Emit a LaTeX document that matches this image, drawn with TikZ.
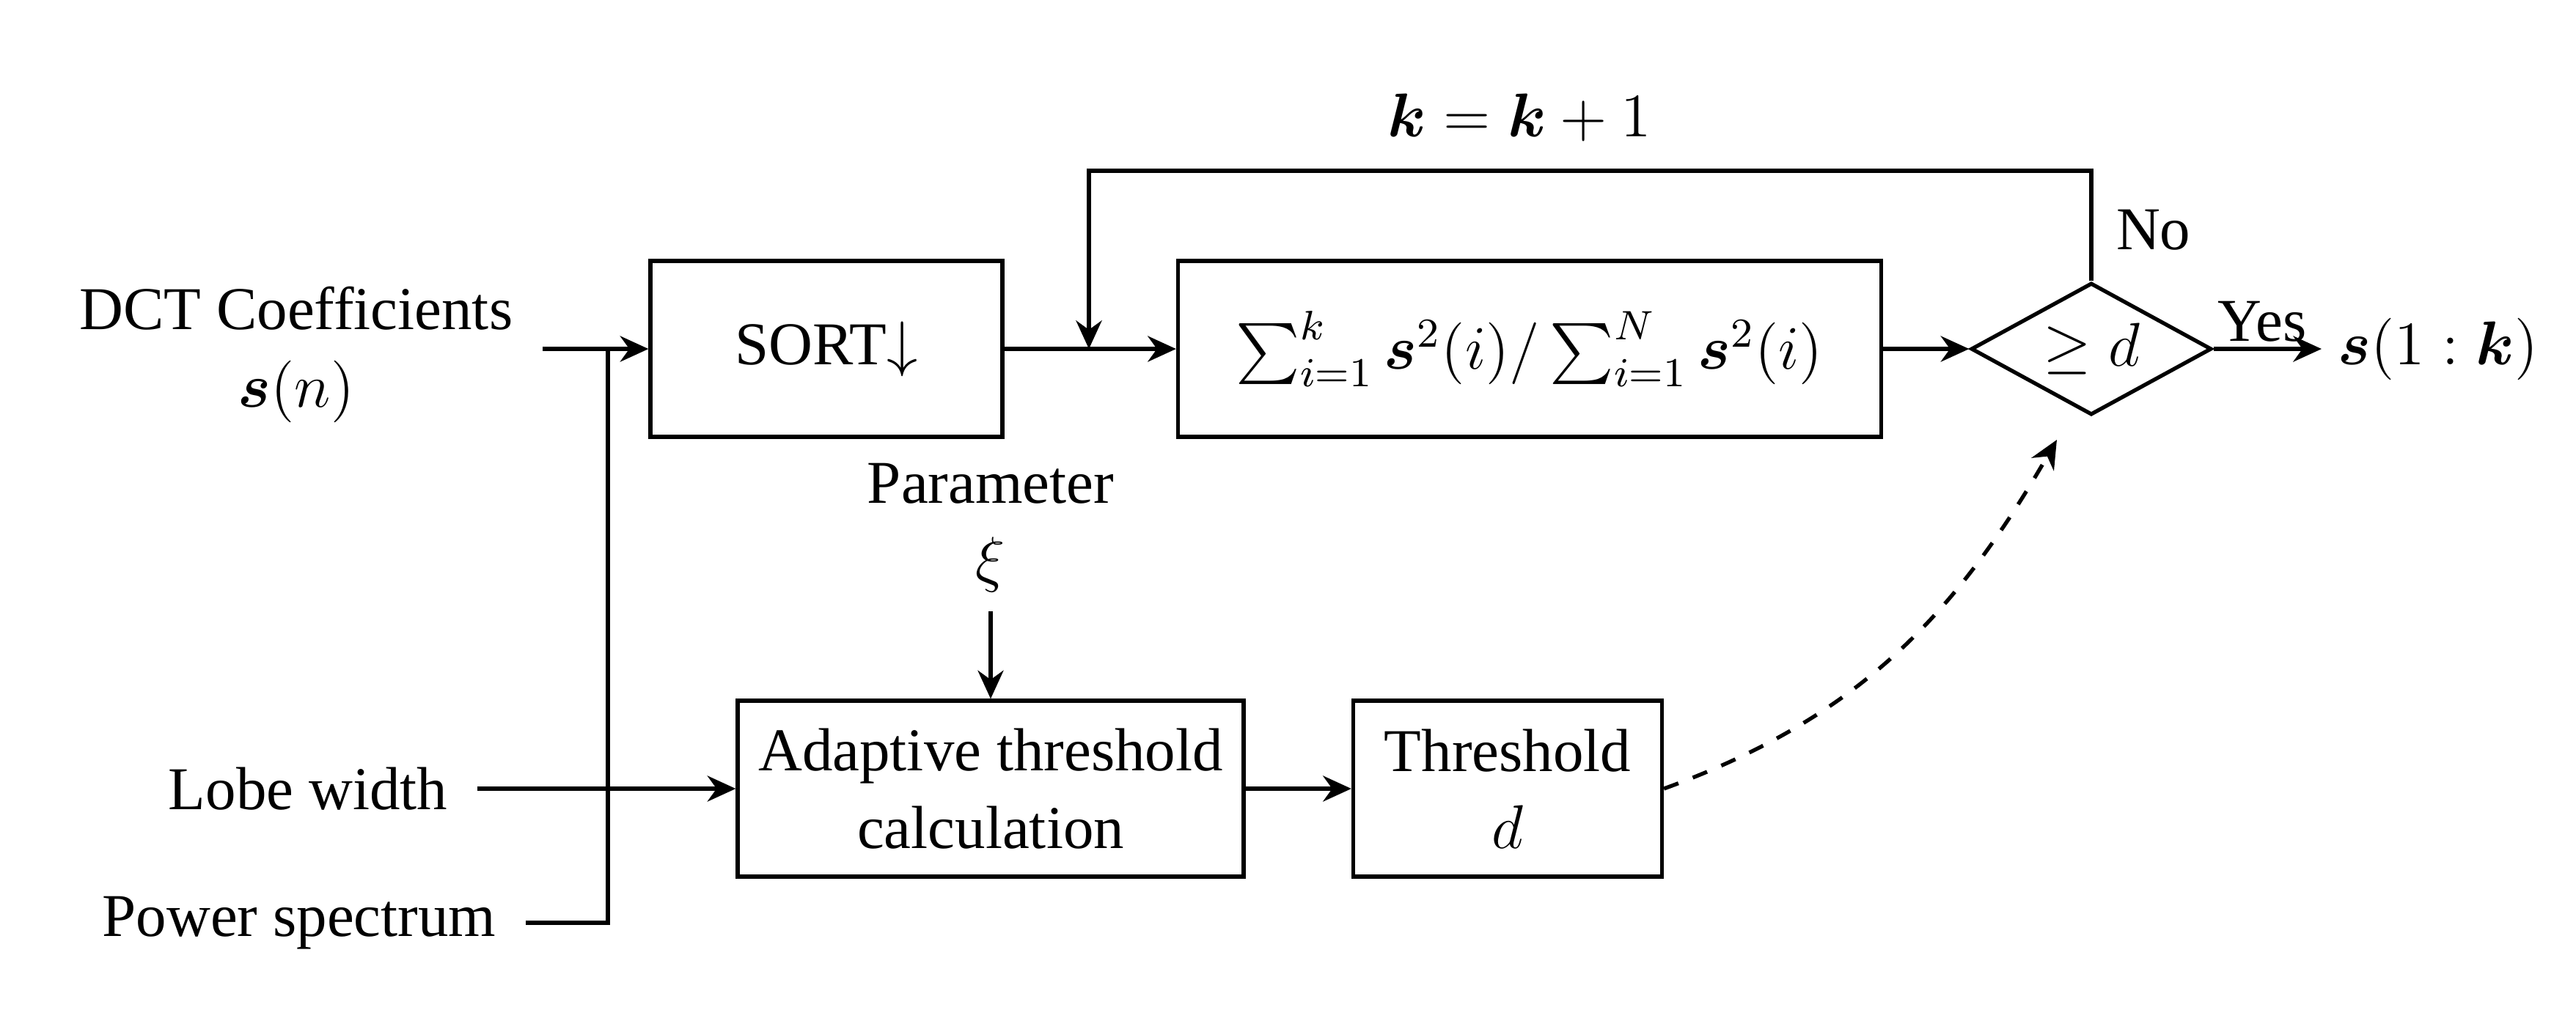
\documentclass[tikz,border=0pt]{standalone}
\usepackage{fontspec}
\setmainfont{Liberation Serif}
\usepackage{amsmath,amssymb}
\usetikzlibrary{shapes.geometric,arrows.meta,positioning,calc}

\begin{document}
\begin{tikzpicture}[
  font=\fontsize{11.8}{15}\selectfont,
  line width=0.75pt,
  >={Stealth[length=5.5pt,width=5pt]},
  block/.style={draw, minimum height=1.2cm, align=center, inner sep=2pt},
  decision/.style={draw, diamond, aspect=1.8, inner sep=0pt, minimum width=1.64cm, minimum height=0.9cm},
  inlbl/.style={align=center, inner xsep=0.19cm}
]
  \useasboundingbox (0,0) rectangle (17.565,-6.885);
  % top row
  \node[block, minimum width=2.4cm] (sort) at (5.635,-2.38) {SORT$\downarrow$};
  \node[block, minimum width=4.795cm] (ratio) at (10.43,-2.38) {$\sum_{i=1}^{k}\boldsymbol{s}^2(i)/\sum_{i=1}^{N}\boldsymbol{s}^2(i)$};
  \node[decision] (dec) at (14.26,-2.38) {$\geq d$};
  \node[anchor=west, inner sep=0.1cm] (out) at (15.83,-2.38) {$\boldsymbol{s}(1:\boldsymbol{k})$};
  % bottom row
  \node[block, minimum width=3.45cm] (adapt) at (6.755,-5.38) {Adaptive threshold\\calculation};
  \node[block, minimum width=2.105cm] (thr) at (10.28,-5.38) {Threshold\\$d$};
  % inputs
  \node[inlbl] (dct) at (2.02,-2.42) {DCT Coefficients\\$\boldsymbol{s}(n)$};
  \node[inlbl] (lobe) at (2.1,-5.38) {Lobe width};
  \node[inlbl] (power) at (2.04,-6.295) {Power spectrum};
  \node[align=center] (param) at (6.755,-3.6) {Parameter\\$\xi$};
  \coordinate (split) at (4.145,-2.38);
  \coordinate (fb) at (7.425,-1.165);
  \coordinate (dtip) at (14.025,-3.0);

  \draw[->] (dct.east |- sort) -- (sort);
  \draw (power.east) -| (split);
  \draw[->] (lobe) -- (adapt);
  \draw[->] (param) -- (adapt);
  \draw[->] (sort) -- (ratio);
  \draw[->] (ratio) -- (dec);
  \draw[->] (dec) -- node[above, inner sep=1pt, pos=0.45] {Yes} (out);
  % loop back while the ratio is below d
  \draw[->] (dec.north) |- (fb) -- (fb |- sort.east);
  \node at (10.36,-0.8) {$\boldsymbol{k}=\boldsymbol{k}+1$};
  \node[anchor=west] at (14.3,-1.57) {No};
  \draw[->] (adapt) -- (thr);
  \draw[->, dashed] (thr.east) to[out=20, in=240] (dtip);
\end{tikzpicture}
\end{document}
